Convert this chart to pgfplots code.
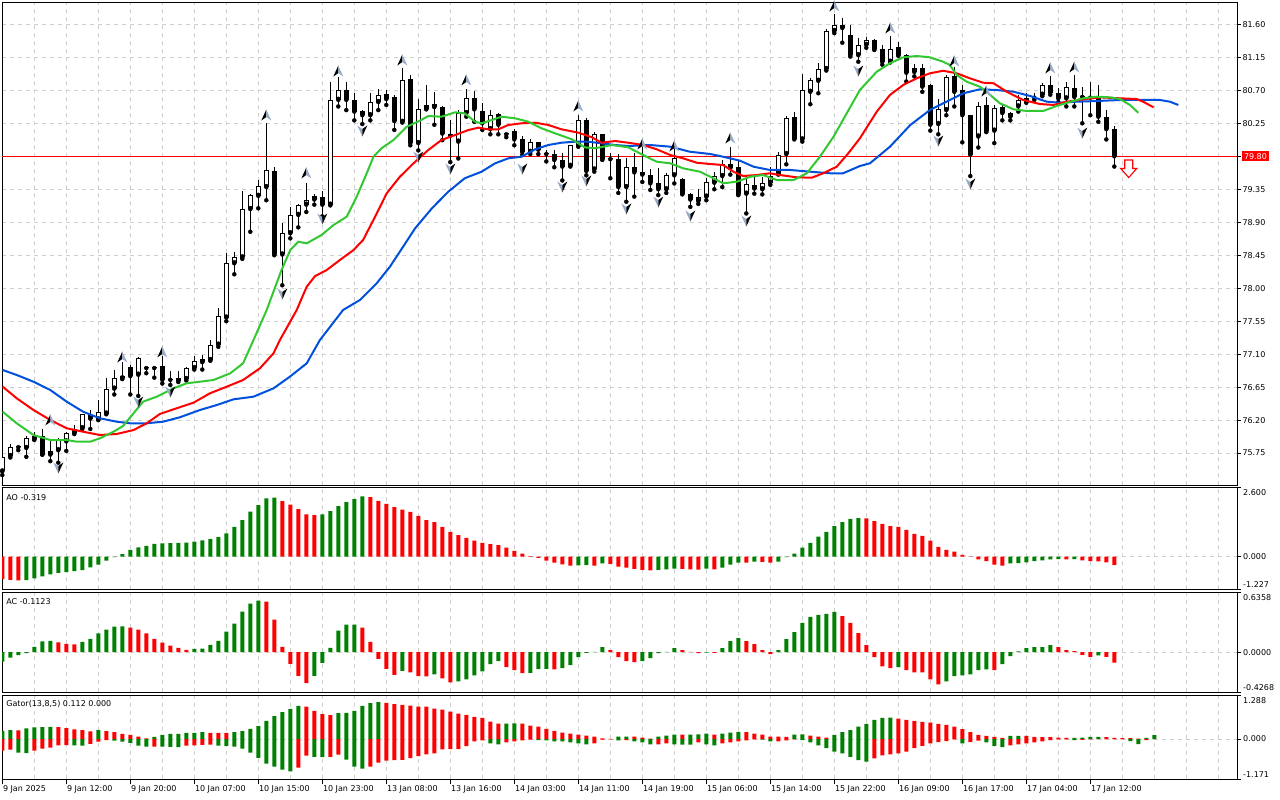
\documentclass[border=0pt]{standalone}
\usepackage{fontspec}
\setmainfont{DejaVu Sans}
\usepackage{pgfplots}
\usepackage{pgfplotstable}
\pgfplotsset{compat=1.18}

\newcommand\lab{\fontsize{8}{9.6}\selectfont}
\definecolor{mtgreen}{RGB}{0,128,0}
\definecolor{mtred}{RGB}{255,0,0}
\definecolor{jawc}{RGB}{0,80,220}
\definecolor{teethc}{RGB}{255,0,0}
\definecolor{lipsc}{RGB}{50,200,50}
\definecolor{gridc}{RGB}{208,208,208}
\definecolor{fraclight}{RGB}{150,172,205}

\pgfdeclareplotmark{fup}{%
  \pgfpathmoveto{\pgfqpoint{0pt}{5.5pt}}\pgfpathlineto{\pgfqpoint{-5pt}{-5.5pt}}\pgfpathlineto{\pgfqpoint{0pt}{-2pt}}\pgfpathclose
  \pgfsetfillcolor{black}\pgfusepath{fill}%
  \pgfpathmoveto{\pgfqpoint{0pt}{5.5pt}}\pgfpathlineto{\pgfqpoint{0pt}{-2pt}}\pgfpathlineto{\pgfqpoint{5pt}{-5.5pt}}\pgfpathclose
  \pgfsetfillcolor{fraclight}\pgfusepath{fill}%
}
\pgfdeclareplotmark{fdn}{%
  \pgfpathmoveto{\pgfqpoint{0pt}{-5.5pt}}\pgfpathlineto{\pgfqpoint{-5pt}{5.5pt}}\pgfpathlineto{\pgfqpoint{0pt}{2pt}}\pgfpathclose
  \pgfsetfillcolor{fraclight}\pgfusepath{fill}%
  \pgfpathmoveto{\pgfqpoint{0pt}{-5.5pt}}\pgfpathlineto{\pgfqpoint{0pt}{2pt}}\pgfpathlineto{\pgfqpoint{5pt}{5.5pt}}\pgfpathclose
  \pgfsetfillcolor{black}\pgfusepath{fill}%
}
\pgfdeclareplotmark{sellarrow}{%
  \pgfpathmoveto{\pgfqpoint{-4pt}{9pt}}\pgfpathlineto{\pgfqpoint{4pt}{9pt}}\pgfpathlineto{\pgfqpoint{4pt}{0.5pt}}%
  \pgfpathlineto{\pgfqpoint{8pt}{0.5pt}}\pgfpathlineto{\pgfqpoint{0pt}{-8.5pt}}\pgfpathlineto{\pgfqpoint{-8pt}{0.5pt}}%
  \pgfpathlineto{\pgfqpoint{-4pt}{0.5pt}}\pgfpathclose\pgfusepathqfillstroke
}

\pgfplotstableread{
i o h l c
0 75.50 75.72 75.45 75.70
1 75.71 75.88 75.69 75.84
2 75.83 75.86 75.79 75.84
3 75.82 75.98 75.70 75.95
4 75.94 76.04 75.93 75.98
5 75.99 76.08 75.73 75.73
6 75.73 75.92 75.64 75.78
7 75.79 75.95 75.62 75.94
8 75.91 76.04 75.78 76.03
9 76.02 76.14 76.01 76.08
10 76.09 76.29 76.08 76.28
11 76.27 76.34 76.08 76.22
12 76.21 76.47 76.20 76.31
13 76.29 76.78 76.28 76.63
14 76.63 76.88 76.55 76.77
15 76.77 77.00 76.76 76.80
16 76.93 76.95 76.55 76.80
17 76.82 77.06 76.53 77.05
18 76.91 76.93 76.84 76.92
19 76.91 76.94 76.78 76.91
20 76.94 77.07 76.70 76.75
21 76.75 76.87 76.68 76.76
22 76.77 76.87 76.72 76.74
23 76.76 76.93 76.74 76.91
24 76.91 77.07 76.89 77.01
25 76.99 77.09 76.89 77.03
26 77.02 77.30 77.01 77.23
27 77.23 77.73 77.20 77.62
28 77.60 78.48 77.55 78.34
29 78.34 78.49 78.19 78.42
30 78.42 79.32 78.40 79.08
31 79.08 79.28 78.77 79.27
32 79.26 79.48 79.09 79.39
33 79.38 80.25 79.20 79.61
34 79.60 79.66 78.45 78.46
35 78.46 78.89 78.04 78.75
36 78.75 79.11 78.68 79.00
37 79.00 79.15 78.83 79.14
38 79.14 79.44 79.04 79.20
39 79.21 79.28 79.14 79.26
40 79.25 79.32 78.98 79.14
41 79.14 80.82 79.13 80.57
42 80.57 80.88 80.48 80.71
43 80.71 80.82 80.43 80.57
44 80.57 80.66 80.29 80.41
45 80.42 80.43 80.24 80.36
46 80.36 80.66 80.29 80.54
47 80.54 80.72 80.43 80.64
48 80.65 80.71 80.50 80.58
49 80.61 80.63 80.16 80.28
50 80.27 81.00 80.26 80.84
51 80.85 80.91 79.95 79.98
52 79.98 80.58 79.88 80.44
53 80.45 80.77 80.44 80.50
54 80.51 80.68 80.23 80.47
55 80.47 80.48 80.02 80.11
56 80.11 80.29 79.72 80.08
57 80.00 80.43 79.77 80.39
58 80.39 80.72 80.34 80.59
59 80.59 80.69 80.27 80.44
60 80.42 80.53 80.16 80.25
61 80.17 80.43 80.10 80.36
62 80.38 80.39 80.10 80.23
63 80.10 80.12 80.06 80.10
64 80.15 80.17 79.95 80.03
65 80.04 80.08 79.82 79.86
66 79.86 80.04 79.83 79.99
67 79.99 80.00 79.83 79.89
68 79.83 79.89 79.73 79.83
69 79.83 79.89 79.65 79.75
70 79.75 79.84 79.47 79.66
71 79.67 79.96 79.66 79.95
72 79.94 80.36 79.93 80.30
73 80.30 80.32 79.54 79.60
74 79.62 80.13 79.59 80.10
75 80.10 80.11 79.75 79.76
76 79.76 79.84 79.50 79.76
77 79.76 79.83 79.30 79.38
78 79.38 79.77 79.18 79.66
79 79.65 79.84 79.25 79.58
80 79.58 79.93 79.45 79.55
81 79.54 79.62 79.34 79.43
82 79.43 79.64 79.27 79.35
83 79.35 79.57 79.30 79.54
84 79.54 79.94 79.43 79.77
85 79.49 79.50 79.28 79.29
86 79.29 79.30 79.11 79.21
87 79.19 79.35 79.15 79.25
88 79.25 79.50 79.20 79.45
89 79.44 79.59 79.35 79.53
90 79.53 79.75 79.38 79.69
91 79.69 79.93 79.55 79.64
92 79.65 79.75 79.27 79.28
93 79.29 79.54 79.02 79.42
94 79.41 79.54 79.29 79.36
95 79.35 79.52 79.28 79.44
96 79.44 79.66 79.41 79.53
97 79.56 79.86 79.55 79.82
98 79.83 80.35 79.69 80.32
99 80.33 80.41 80.03 80.04
100 80.03 80.92 80.00 80.70
101 80.68 80.87 80.51 80.84
102 80.83 81.07 80.66 80.99
103 80.99 81.53 80.97 81.51
104 81.51 81.74 81.48 81.59
105 81.59 81.68 81.35 81.55
106 81.45 81.59 81.16 81.18
107 81.18 81.41 81.09 81.32
108 81.32 81.43 81.28 81.39
109 81.39 81.40 81.25 81.26
110 81.26 81.32 81.05 81.09
111 81.09 81.44 81.08 81.27
112 81.29 81.36 81.17 81.18
113 81.18 81.19 80.82 80.94
114 80.95 81.06 80.89 81.00
115 81.00 81.06 80.68 80.75
116 80.77 80.78 80.15 80.23
117 80.24 80.58 80.10 80.44
118 80.43 80.91 80.36 80.88
119 80.90 81.02 80.48 80.68
120 80.70 80.77 79.99 80.36
121 80.36 80.37 79.53 79.82
122 80.07 80.54 79.92 80.49
123 80.50 80.61 80.13 80.14
124 80.15 80.50 79.98 80.46
125 80.47 80.50 80.29 80.39
126 80.39 80.40 80.29 80.34
127 80.48 80.64 80.41 80.57
128 80.54 80.67 80.53 80.60
129 80.60 80.66 80.57 80.61
130 80.64 80.80 80.62 80.77
131 80.77 80.89 80.64 80.67
132 80.67 80.73 80.54 80.59
133 80.59 80.82 80.48 80.74
134 80.73 80.91 80.48 80.61
135 80.62 80.75 80.25 80.61
136 80.61 80.82 80.36 80.60
137 80.61 80.77 80.27 80.34
138 80.34 80.43 80.03 80.17
139 80.17 80.21 79.66 79.80
}\candles

\pgfplotstableread{
i v g
0 -0.84 0
1 -0.87 0
2 -0.89 0
3 -0.88 1
4 -0.82 1
5 -0.745 1
6 -0.67 1
7 -0.61 1
8 -0.58 1
9 -0.546 1
10 -0.51 1
11 -0.40 1
12 -0.30 1
13 -0.15 1
14 -0.02 1
15 0.10 1
16 0.26 1
17 0.35 1
18 0.41 1
19 0.48 1
20 0.50 1
21 0.51 1
22 0.52 1
23 0.53 1
24 0.57 1
25 0.61 1
26 0.67 1
27 0.73 1
28 0.88 1
29 1.12 1
30 1.37 1
31 1.69 1
32 1.94 1
33 2.19 1
34 2.22 1
35 2.09 0
36 1.96 0
37 1.79 0
38 1.59 0
39 1.56 0
40 1.59 1
41 1.71 1
42 1.90 1
43 2.05 1
44 2.16 1
45 2.27 1
46 2.24 0
47 2.10 0
48 1.98 0
49 1.86 0
50 1.77 0
51 1.68 0
52 1.53 0
53 1.37 0
54 1.30 0
55 1.12 0
56 0.93 0
57 0.81 0
58 0.71 0
59 0.60 0
60 0.52 0
61 0.47 0
62 0.43 0
63 0.34 0
64 0.22 0
65 0.11 0
66 0.02 0
67 -0.05 0
68 -0.15 0
69 -0.22 0
70 -0.29 0
71 -0.34 0
72 -0.33 1
73 -0.32 1
74 -0.34 0
75 -0.25 1
76 -0.27 0
77 -0.37 0
78 -0.41 0
79 -0.46 0
80 -0.50 0
81 -0.52 0
82 -0.50 1
83 -0.48 1
84 -0.45 1
85 -0.46 0
86 -0.48 0
87 -0.49 0
88 -0.45 1
89 -0.48 0
90 -0.41 1
91 -0.30 1
92 -0.22 1
93 -0.225 0
94 -0.19 1
95 -0.195 0
96 -0.22 0
97 -0.19 1
98 -0.02 1
99 0.11 1
100 0.34 1
101 0.52 1
102 0.75 1
103 0.93 1
104 1.15 1
105 1.30 1
106 1.42 1
107 1.45 1
108 1.44 0
109 1.34 0
110 1.23 0
111 1.15 0
112 1.12 0
113 1.01 0
114 0.86 0
115 0.78 0
116 0.60 0
117 0.37 0
118 0.26 0
119 0.19 0
120 0.07 0
121 -0.01 0
122 -0.10 0
123 -0.17 0
124 -0.30 0
125 -0.34 0
126 -0.25 1
127 -0.24 1
128 -0.21 1
129 -0.17 1
130 -0.14 1
131 -0.10 1
132 -0.09 1
133 -0.10 0
134 -0.09 1
135 -0.14 0
136 -0.17 0
137 -0.175 0
138 -0.21 0
139 -0.319 0
}\aodata

\pgfplotstableread{
i v g
0 -0.10 1
1 -0.057 1
2 -0.032 1
3 -0.011 1
4 0.057 1
5 0.114 1
6 0.121 1
7 0.103 0
8 0.089 0
9 0.082 0
10 0.110 1
11 0.142 1
12 0.199 1
13 0.239 1
14 0.271 1
15 0.273 1
16 0.26 0
17 0.239 0
18 0.199 0
19 0.142 0
20 0.10 0
21 0.068 0
22 0.046 0
23 0.025 0
24 0.036 1
25 0.037 1
26 0.078 1
27 0.121 1
28 0.217 1
29 0.303 1
30 0.431 1
31 0.516 1
32 0.548 1
33 0.538 0
34 0.345 0
35 0.057 0
36 -0.125 0
37 -0.253 0
38 -0.328 0
39 -0.253 1
40 -0.114 1
41 0.046 1
42 0.228 1
43 0.292 1
44 0.293 1
45 0.26 0
46 0.11 0
47 -0.071 0
48 -0.178 0
49 -0.242 0
50 -0.20 1
51 -0.214 0
52 -0.256 0
53 -0.257 0
54 -0.235 1
55 -0.278 0
56 -0.32 0
57 -0.31 1
58 -0.288 1
59 -0.246 1
60 -0.203 1
61 -0.128 1
62 -0.096 1
63 -0.16 0
64 -0.192 0
65 -0.224 0
66 -0.22 1
67 -0.18 1
68 -0.178 1
69 -0.182 0
70 -0.171 1
71 -0.139 1
72 -0.053 1
73 -0.007 1
74 0.004 1
75 0.053 1
76 0.021 0
77 -0.053 0
78 -0.096 0
79 -0.107 0
80 -0.096 1
81 -0.064 1
82 -0.011 1
83 0.004 1
84 0.043 1
85 0.021 0
86 0.004 0
87 -0.011 0
88 -0.004 1
89 -0.007 0
90 0.043 1
91 0.117 1
92 0.15 1
93 0.117 0
94 0.085 0
95 0.021 0
96 -0.021 0
97 0.021 1
98 0.139 1
99 0.214 1
100 0.31 1
101 0.374 1
102 0.395 1
103 0.406 1
104 0.427 1
105 0.384 0
106 0.31 0
107 0.203 0
108 0.075 0
109 -0.053 0
110 -0.15 0
111 -0.171 0
112 -0.16 1
113 -0.192 0
114 -0.214 0
115 -0.215 0
116 -0.288 0
117 -0.342 0
118 -0.31 1
119 -0.256 1
120 -0.246 1
121 -0.235 1
122 -0.192 1
123 -0.182 1
124 -0.192 0
125 -0.128 1
126 -0.043 1
127 0.007 1
128 0.043 1
129 0.053 1
130 0.054 1
131 0.075 1
132 0.053 0
133 0.021 0
134 0.011 0
135 -0.028 0
136 -0.05 0
137 -0.035 1
138 -0.05 0
139 -0.1123 0
}\acdata

\pgfplotstableread{
i u ug d dg
0 0.24 1 -0.34 0
1 0.26 1 -0.31 0
2 0.255 0 -0.40 1
3 0.31 1 -0.41 1
4 0.34 1 -0.34 0
5 0.35 1 -0.28 0
6 0.352 1 -0.25 0
7 0.35 0 -0.19 0
8 0.32 0 -0.18 0
9 0.28 0 -0.19 1
10 0.26 0 -0.195 1
11 0.22 0 -0.14 0
12 0.26 1 -0.08 0
13 0.23 0 -0.03 0
14 0.20 0 -0.05 1
15 0.15 0 -0.08 1
16 0.12 0 -0.11 1
17 0.07 0 -0.195 1
18 0.02 0 -0.225 1
19 0.06 1 -0.22 0
20 0.12 1 -0.225 1
21 0.15 1 -0.23 1
22 0.152 1 -0.235 1
23 0.18 1 -0.195 0
24 0.182 1 -0.19 0
25 0.20 1 -0.17 0
26 0.18 0 -0.165 0
27 0.178 0 -0.195 1
28 0.176 0 -0.20 1
29 0.20 1 -0.225 1
30 0.23 1 -0.28 1
31 0.30 1 -0.40 1
32 0.38 1 -0.55 1
33 0.53 1 -0.72 1
34 0.67 1 -0.81 1
35 0.79 1 -0.90 1
36 0.88 1 -0.95 1
37 0.97 1 -0.84 0
38 0.95 0 -0.49 0
39 0.82 0 -0.52 1
40 0.73 0 -0.53 1
41 0.70 0 -0.52 0
42 0.76 1 -0.46 0
43 0.762 1 -0.60 1
44 0.82 1 -0.81 1
45 0.97 1 -0.87 1
46 1.05 1 -0.81 0
47 1.08 1 -0.69 0
48 1.06 0 -0.63 0
49 1.02 0 -0.62 0
50 1.00 0 -0.61 0
51 0.98 0 -0.56 0
52 0.95 0 -0.50 0
53 0.945 0 -0.45 0
54 0.89 0 -0.42 0
55 0.86 0 -0.30 0
56 0.80 0 -0.298 0
57 0.74 0 -0.296 0
58 0.71 0 -0.21 0
59 0.65 0 -0.07 0
60 0.62 0 -0.04 0
61 0.51 0 -0.13 1
62 0.45 0 -0.16 1
63 0.452 1 -0.10 0
64 0.455 1 -0.07 0
65 0.45 0 -0.04 0
66 0.39 0 -0.02 0
67 0.36 0 -0.03 1
68 0.30 0 -0.04 1
69 0.24 0 -0.07 1
70 0.19 0 -0.072 1
71 0.16 0 -0.10 1
72 0.13 0 -0.13 1
73 0.10 0 -0.16 1
74 0.07 0 -0.13 0
75 0.02 0 -0.02 0
76 0.005 0 -0.01 0
77 0.07 1 -0.04 1
78 0.072 1 -0.03 0
79 0.068 0 -0.07 1
80 0.04 0 -0.10 1
81 0.01 0 -0.16 1
82 0.07 1 -0.155 0
83 0.10 1 -0.13 0
84 0.13 1 -0.16 1
85 0.125 0 -0.162 1
86 0.13 1 -0.164 1
87 0.132 1 -0.10 0
88 0.16 1 -0.16 1
89 0.13 0 -0.19 1
90 0.16 1 -0.13 0
91 0.19 1 -0.10 0
92 0.21 1 -0.07 0
93 0.205 0 -0.04 0
94 0.16 0 -0.01 0
95 0.13 0 -0.02 1
96 0.07 0 -0.07 1
97 0.068 0 -0.068 0
98 0.065 0 -0.04 0
99 0.13 1 -0.01 0
100 0.132 1 -0.03 1
101 0.10 0 -0.10 1
102 0.07 0 -0.19 1
103 0.04 0 -0.27 1
104 0.12 1 -0.37 1
105 0.20 1 -0.42 1
106 0.26 1 -0.52 1
107 0.36 1 -0.62 1
108 0.44 1 -0.66 1
109 0.56 1 -0.57 0
110 0.62 1 -0.48 0
111 0.625 1 -0.45 0
112 0.60 0 -0.42 0
113 0.56 0 -0.37 0
114 0.53 0 -0.27 0
115 0.50 0 -0.20 0
116 0.48 0 -0.13 0
117 0.44 0 -0.09 0
118 0.41 0 -0.06 0
119 0.36 0 -0.01 0
120 0.29 0 -0.13 1
121 0.20 0 -0.09 0
122 0.12 0 -0.05 0
123 0.09 0 -0.10 1
124 0.06 0 -0.20 1
125 0.03 0 -0.24 1
126 0.09 1 -0.19 0
127 0.092 1 -0.16 0
128 0.088 0 -0.13 0
129 0.06 0 -0.10 0
130 0.058 0 -0.07 0
131 0.056 0 -0.03 0
132 0.04 0 -0.01 0
133 0.03 0 -0.008 0
134 0.035 1 -0.03 1
135 0.04 1 -0.028 0
136 0.06 1 -0.01 0
137 0.062 1 -0.005 0
138 0.058 0 -0.004 0
139 0.03 0 -0.003 0
140 0.028 0 -0.002 0
141 0.026 0 -0.06 1
142 0.01 0 -0.15 1
143 0.03 1 -0.03 0
144 0.112 1 0 0
}\gatordata

\pgfplotsset{
  mtbase/.style={
    scale only axis, width=1234.88pt, xmin=-0.02, xmax=154.34,
    clip mode=individual,
    axis line style={black, line width=0.9pt},
    tick align=outside,
    ytick pos=right, yticklabel pos=right,
    xtick pos=left, xticklabel pos=left,
    ytick style={black, line width=0.8pt, /pgfplots/major tick length=4pt},
    major grid style={gridc, dash pattern=on 4pt off 4pt, line width=0.8pt},
    minor grid style={gridc, dash pattern=on 4pt off 4pt, line width=0.8pt},
    minor tick length=0pt,
    yticklabel style={font=\lab, anchor=west, inner sep=1pt},
    xticklabel style={font=\lab},
  },
  mtgridx/.style={xtick={0,4,...,152}, xticklabels={,,}, xmajorgrids, xtick style={/pgfplots/major tick length=0pt}},
  hbar/.style={ybar, bar width=4pt, bar shift=0pt, draw=none},
}

\begin{document}
\begin{tikzpicture}[x=1pt,y=1pt]
\path[use as bounding box] (0pt,0pt) rectangle (1280pt,-800pt);

% ---------------- main price panel ----------------
\begin{axis}[mtbase, mtgridx, name=main, at={(2.14pt,-2pt)}, anchor=north west,
  height=483pt, ymin=75.315, ymax=81.905,
  ytick={75.75,76.20,76.65,77.10,77.55,78.00,78.45,78.90,79.35,80.25,80.70,81.15,81.60},
  yticklabels={75.75,76.20,76.65,77.10,77.55,78.00,78.45,78.90,79.35,80.25,80.70,81.15,81.60},
  ymajorgrids,
  extra y ticks={79.80}, extra y tick labels={79.80},
  extra y tick style={yticklabel style={fill=mtred, text=white, inner xsep=2.5pt, inner ysep=2pt, text height=5.8pt, text depth=0pt}},
]
\addplot[mtred, line width=0.9pt] coordinates {(-0.02,79.80) (154.34,79.80)};
% wicks
\addplot[only marks, mark=none, error bars/.cd, y dir=plus, y explicit, error mark=none,
  error bar style={draw=black, line width=1pt, solid}]
  table[x=i, y=l, y error plus expr={\thisrow{h}-\thisrow{l}}] {\candles};
% bodies
\addplot[only marks, mark=none, error bars/.cd, y dir=plus, y explicit, error mark=none,
  error bar style={draw=black, line width=5pt, solid}]
  table[x=i, y expr={min(\thisrow{o},\thisrow{c})}, y error plus expr={max(abs(\thisrow{c}-\thisrow{o}),0.0137)}] {\candles};
\addplot[only marks, mark=none, restrict expr to domain={\thisrow{c}-\thisrow{o}}{0.028:100},
  error bars/.cd, y dir=plus, y explicit, error mark=none,
  error bar style={draw=white, line width=3pt, solid}]
  table[x=i, y expr={\thisrow{o}+0.0137}, y error plus expr={\thisrow{c}-\thisrow{o}-0.0274}] {\candles};
% Alligator jaw
\addplot[jawc, line width=2pt] coordinates {(0.05,76.884) (1.8,76.816) (3.9,76.724) (6.0,76.611) (8.05,76.452) (10.1,76.315) (12.2,76.225) (14.3,76.179) (15.95,76.157) (18.05,76.157) (20.1,76.179) (22.2,76.239) (24.7,76.338) (26.8,76.406) (28.9,76.484) (31.4,76.52) (33.9,76.634) (35.95,76.793) (38.05,76.975) (39.7,77.293) (42.6,77.703) (44.7,77.839) (46.8,78.067) (48.45,78.293) (50.1,78.566) (51.6,78.817) (53.7,79.09) (55.75,79.317) (57.8,79.5) (59.9,79.589) (61.6,79.704) (63.25,79.772) (64.9,79.794) (66.6,79.895) (68.25,79.954) (69.9,79.985) (71.6,79.999) (73.25,79.999) (74.9,79.977) (76.6,79.954) (78.25,79.94) (80.95,79.954) (83.5,79.931) (85.95,79.862) (88.5,79.831) (90.1,79.794) (92.2,79.74) (93.9,79.658) (95.95,79.613) (98.5,79.613) (100.95,79.59) (103.5,79.568) (105.1,79.568) (107.2,79.667) (108.45,79.704) (110.95,79.93) (113.5,80.227) (115.95,80.431) (118.45,80.568) (120.1,80.659) (122.2,80.714) (124.3,80.704) (126.4,80.681) (128.5,80.622) (130.55,80.545) (132.2,80.531) (134.3,80.545) (136.8,80.554) (139.7,80.568) (144.7,80.568) (145.95,80.545) (147.0,80.5)};
% Alligator teeth
\addplot[teethc, line width=2pt] coordinates {(0.05,76.656) (1.8,76.498) (3.9,76.338) (6.0,76.202) (8.05,76.089) (10.1,76.042) (12.2,75.997) (14.3,76.011) (16.4,76.065) (18.05,76.157) (19.7,76.284) (21.8,76.362) (23.9,76.438) (25.95,76.566) (28.05,76.656) (30.1,76.748) (32.2,76.907) (33.9,77.112) (34.7,77.293) (36.8,77.703) (38.05,78.02) (39.1,78.166) (40.55,78.248) (42.2,78.385) (43.9,78.521) (45.1,78.658) (46.6,78.976) (48.05,79.295) (49.7,79.521) (51.4,79.704) (53.25,79.886) (54.9,80.022) (56.6,80.09) (58.25,80.158) (59.5,80.19) (60.75,80.168) (62.0,80.168) (63.25,80.227) (64.9,80.25) (66.6,80.258) (68.25,80.227) (69.9,80.168) (72.0,80.122) (73.7,80.059) (74.9,79.985) (76.6,80.008) (78.25,79.985) (80.1,79.954) (81.8,79.895) (83.5,79.817) (85.1,79.772) (86.8,79.712) (88.5,79.694) (90.1,79.681) (91.4,79.589) (92.6,79.531) (94.3,79.544) (95.95,79.568) (97.2,79.544) (99.3,79.513) (101.2,79.508) (102.6,79.568) (104.3,79.658) (105.75,79.841) (107.2,80.045) (109.3,80.408) (110.95,80.636) (112.6,80.772) (114.3,80.864) (115.95,80.932) (117.6,80.967) (119.3,80.932) (120.95,80.864) (122.6,80.804) (123.9,80.796) (125.55,80.681) (127.6,80.568) (129.7,80.513) (131.4,80.5) (133.05,80.545) (135.1,80.577) (137.2,80.604) (139.7,80.591) (141.8,80.581) (142.6,80.545) (143.9,80.468)};
% Alligator lips
\addplot[lipsc, line width=2pt] coordinates {(0.05,76.315) (1.8,76.157) (3.9,75.997) (6.0,75.929) (8.05,75.929) (9.3,75.906) (11.0,75.906) (12.2,75.952) (13.9,76.042) (15.1,76.12) (16.4,76.293) (17.6,76.452) (19.3,76.52) (21.4,76.634) (23.05,76.703) (24.7,76.724) (26.4,76.748) (28.5,76.839) (30.1,76.976) (31.4,77.293) (33.05,77.703) (34.9,78.248) (36.0,78.521) (37.0,78.634) (38.05,78.612) (39.9,78.726) (41.4,78.862) (43.05,78.976) (44.3,79.248) (45.55,79.568) (46.4,79.794) (47.4,79.909) (48.9,80.022) (50.55,80.203) (52.2,80.285) (53.25,80.349) (54.9,80.34) (56.6,80.4) (57.8,80.386) (59.1,80.272) (59.9,80.25) (61.2,80.295) (62.4,80.34) (64.1,80.318) (65.75,80.272) (67.4,80.182) (69.1,80.113) (71.2,80.031) (72.8,79.922) (74.1,79.909) (76.2,79.954) (78.25,79.922) (80.1,79.817) (81.8,79.726) (83.5,79.704) (85.1,79.636) (87.2,79.59) (88.9,79.5) (90.1,79.431) (91.8,79.453) (93.5,79.521) (95.1,79.544) (96.8,79.476) (98.9,79.476) (100.55,79.567) (102.2,79.794) (103.9,80.067) (105.55,80.386) (107.2,80.704) (109.3,80.954) (110.95,81.068) (112.6,81.15) (114.3,81.168) (115.95,81.15) (117.6,81.09) (118.45,81.045) (119.3,80.909) (120.55,80.817) (122.2,80.749) (123.5,80.636) (124.7,80.523) (126.4,80.441) (128.05,80.418) (130.1,80.418) (131.8,80.486) (133.5,80.544) (135.1,80.591) (136.8,80.613) (138.5,80.604) (139.7,80.581) (140.95,80.5) (142.0,80.394)};
% Fractals
\addplot[only marks, mark=fup] coordinates {(6,76.202) (15,77.061) (20,77.130) (33,80.363) (38,79.572) (42,80.963) (50,81.113) (58,80.841) (72,80.486) (80,79.967) (84,79.940) (91,80.049) (104,81.850) (111,81.550) (119,81.100) (123,80.690) (131,81.004) (134,81.018)};
\addplot[only marks, mark=fdn] coordinates {(7,75.547) (17,76.447) (21,76.584) (35,77.921) (40,78.944) (45,80.145) (52,79.790) (56,79.626) (65,79.626) (70,79.381) (73,79.463) (78,79.081) (82,79.176) (86,78.985) (93,78.917) (107,80.963) (117,80.008) (121,79.422) (135,80.117)};
% sell signal
\addplot[only marks, mark=sellarrow, mark options={draw=mtred, fill=white, line width=1.1pt}] coordinates {(140.8,79.626)};
\end{axis}

% ---------------- AO ----------------
\begin{axis}[mtbase, mtgridx, name=ao, at={(2.14pt,-487.5pt)}, anchor=north west,
  height=101.8pt, ymin=-1.227, ymax=2.600, ytick={-1.227,0,2.6}, yticklabels={,,}, ymajorgrids]
\addplot[hbar, fill=mtgreen, restrict expr to domain={\thisrow{g}}{0.5:1.5}] table[x=i, y=v] {\aodata};
\addplot[hbar, fill=mtred, restrict expr to domain={\thisrow{g}}{-0.5:0.5}] table[x=i, y=v] {\aodata};
\node[anchor=north west, inner sep=0pt, font=\lab, xshift=4pt, yshift=-6.5pt] at (rel axis cs:0,1) {AO -0.319};
\node[anchor=north west, inner sep=0pt, font=\lab, xshift=6pt, yshift=-2pt] at (rel axis cs:1,1) {2.600};
\node[anchor=west, inner sep=0pt, font=\lab, xshift=6pt] at (axis cs:154.34,0) {0.000};
\node[anchor=base west, inner sep=0pt, font=\lab, xshift=6pt, yshift=2pt] at (rel axis cs:1,0) {-1.227};
\end{axis}

% ---------------- AC ----------------
\begin{axis}[mtbase, mtgridx, name=ac, at={(2.14pt,-592.3pt)}, anchor=north west,
  height=100pt, ymin=-0.4268, ymax=0.6358, ytick={-0.4268,0,0.6358}, yticklabels={,,}, ymajorgrids]
\addplot[hbar, fill=mtgreen, restrict expr to domain={\thisrow{g}}{0.5:1.5}] table[x=i, y=v] {\acdata};
\addplot[hbar, fill=mtred, restrict expr to domain={\thisrow{g}}{-0.5:0.5}] table[x=i, y=v] {\acdata};
\node[anchor=north west, inner sep=0pt, font=\lab, xshift=4pt, yshift=-6.5pt] at (rel axis cs:0,1) {AC -0.1123};
\node[anchor=north west, inner sep=0pt, font=\lab, xshift=6pt, yshift=-2pt] at (rel axis cs:1,1) {0.6358};
\node[anchor=west, inner sep=0pt, font=\lab, xshift=6pt] at (axis cs:154.34,0) {0.0000};
\node[anchor=base west, inner sep=0pt, font=\lab, xshift=6pt, yshift=2pt] at (rel axis cs:1,0) {-0.4268};
\end{axis}

% ---------------- Gator ----------------
\begin{axis}[mtbase, name=gator, at={(2.14pt,-695pt)}, anchor=north west,
  height=84pt, ymin=-1.171, ymax=1.288, ytick={-1.171,0,1.288}, yticklabels={,,}, ymajorgrids,
  xtick={0,8,...,136},
  xticklabels={9 Jan 2025,9 Jan 12:00,9 Jan 20:00,10 Jan 07:00,10 Jan 15:00,10 Jan 23:00,13 Jan 08:00,13 Jan 16:00,14 Jan 03:00,14 Jan 11:00,14 Jan 19:00,15 Jan 06:00,15 Jan 14:00,15 Jan 22:00,16 Jan 09:00,16 Jan 17:00,17 Jan 04:00,17 Jan 12:00},
  xtick style={black, line width=0.8pt, /pgfplots/major tick length=5pt},
  xticklabel style={anchor=north west, inner sep=0pt, xshift=0.5pt, yshift=-2.5pt},
  xmajorgrids,
  minor xtick={4,12,...,132,140,144,148,152}, xminorgrids,
]
\addplot[hbar, fill=mtgreen, restrict expr to domain={\thisrow{ug}}{0.5:1.5}] table[x=i, y=u] {\gatordata};
\addplot[hbar, fill=mtred, restrict expr to domain={\thisrow{ug}}{-0.5:0.5}] table[x=i, y=u] {\gatordata};
\addplot[hbar, fill=mtgreen, restrict expr to domain={\thisrow{dg}}{0.5:1.5}] table[x=i, y=d] {\gatordata};
\addplot[hbar, fill=mtred, restrict expr to domain={\thisrow{dg}}{-0.5:0.5}] table[x=i, y=d] {\gatordata};
\node[anchor=north west, inner sep=0pt, font=\lab, xshift=4pt, yshift=-5.5pt] at (rel axis cs:0,1) {Gator(13,8,5) 0.112 0.000};
\node[anchor=north west, inner sep=0pt, font=\lab, xshift=6pt, yshift=-2pt] at (rel axis cs:1,1) {1.288};
\node[anchor=west, inner sep=0pt, font=\lab, xshift=6pt] at (axis cs:154.34,0) {0.000};
\node[anchor=base west, inner sep=0pt, font=\lab, xshift=6pt, yshift=2pt] at (rel axis cs:1,0) {-1.171};
\end{axis}
\end{tikzpicture}
\end{document}
